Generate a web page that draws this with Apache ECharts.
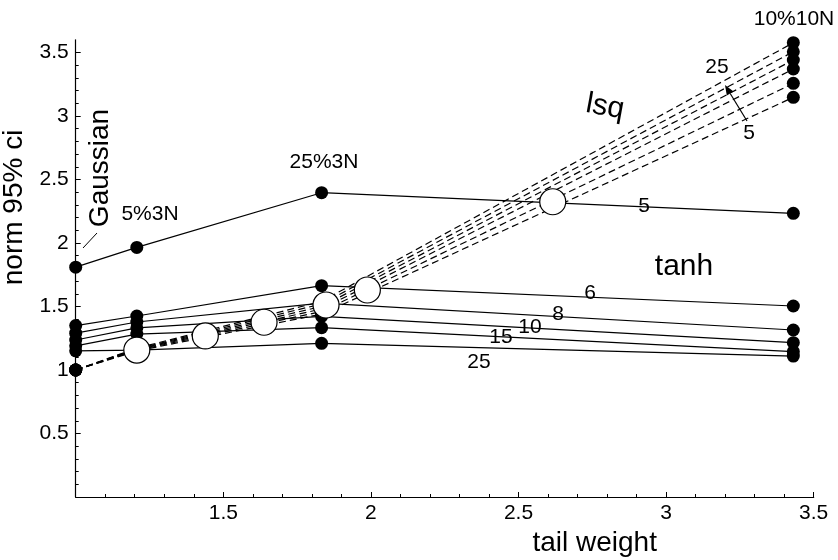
<!DOCTYPE html>
<html>
<head>
<meta charset="utf-8">
<script src="https://cdn.jsdelivr.net/npm/echarts@6/dist/echarts.min.js"></script>
<style>html,body{margin:0;padding:0;background:#fff}#c{width:838px;height:560px}</style>
</head>
<body>
<div id="c"></div>
<script>
// tail weight positions of the four distributions: Gaussian, 5%3N, 25%3N, 10%10N
var tailWeight = [1.0, 1.207, 1.833, 3.431];
// tanh estimator, by N
var tanh5  = [1.81, 1.965, 2.396, 2.234];
var tanh6  = [1.35, 1.425, 1.664, 1.504];
var tanh8  = [1.29, 1.378, 1.526, 1.315];
var tanh10 = [1.236, 1.331, 1.423, 1.215];
var tanh15 = [1.19, 1.283, 1.333, 1.144];
var tanh25 = [1.151, 1.157, 1.21, 1.110];
// lsq estimator, by N
var lsq5  = [1.0, 1.150, 1.440, 3.147];
var lsq6  = [1.0, 1.155, 1.460, 3.257];
var lsq8  = [1.0, 1.160, 1.480, 3.370];
var lsq10 = [1.0, 1.163, 1.500, 3.441];
var lsq15 = [1.0, 1.167, 1.520, 3.506];
var lsq25 = [1.0, 1.172, 1.540, 3.577];
// crossover points (open circles)
var crossX = [1.207, 1.439, 1.638, 1.848, 1.988, 2.616];
var crossY = [1.157, 1.268, 1.376, 1.512, 1.630, 2.325];
// tick values
var xTickLabels = [1.5, 2, 2.5, 3, 3.5];
var yTickLabels = [0.5, 1, 1.5, 2, 2.5, 3, 3.5];
var yMajorTicks = [0, 0.5, 1, 1.5, 2, 2.5, 3, 3.5];
var yMinorTicks = [0.1,0.2,0.3,0.4,0.6,0.7,0.8,0.9,1.1,1.2,1.3,1.4,1.6,1.7,1.8,1.9,2.1,2.2,2.3,2.4,2.6,2.7,2.8,2.9,3.1,3.2,3.3,3.4];

var FONT = 'Liberation Sans';
function pts(ys){ return tailWeight.map(function(x,i){ return [x, ys[i]]; }); }

var tanhSets = [['tanh 5',tanh5],['tanh 6',tanh6],['tanh 8',tanh8],['tanh 10',tanh10],['tanh 15',tanh15],['tanh 25',tanh25]];
var lsqSets = [['lsq 5',lsq5],['lsq 6',lsq6],['lsq 8',lsq8],['lsq 10',lsq10],['lsq 15',lsq15],['lsq 25',lsq25]];

var series = [];
tanhSets.forEach(function(s){
  series.push({name:s[0], type:'line', data:pts(s[1]), symbol:'circle', symbolSize:13,
    itemStyle:{color:'#000', opacity:1}, lineStyle:{color:'#000', width:1.2}, z:3, animation:false, clip:false});
});
lsqSets.forEach(function(s){
  series.push({name:s[0], type:'line', data:pts(s[1]), symbol:'circle', symbolSize:13,
    itemStyle:{color:'#000', opacity:1}, lineStyle:{color:'#000', width:1.2, type:[7,4]}, z:4, animation:false, clip:false});
});
series.push({name:'crossover', type:'scatter', data:crossX.map(function(x,i){return [x,crossY[i]];}),
  symbol:'circle', symbolSize:26, itemStyle:{color:'#fff', opacity:1, borderColor:'#000', borderWidth:1.2}, z:6, animation:false});

function txt(x,y,s,size,rot){
  return {type:'text', x:x, y:y, rotation:rot||0, z:100,
    style:{text:s, fill:'#000', font:(size||21)+'px "'+FONT+'"', align:'center', verticalAlign:'middle'}};
}

var option = {
  animation:false,
  backgroundColor:'#fff',
  textStyle:{fontFamily:FONT},
  grid:{left:75.7, right:24.3, top:39.8, bottom:63, containLabel:false, outerBoundsMode:'none'},
  xAxis:{type:'value', min:1, max:3.5, interval:0.5,
    name:'tail weight', nameLocation:'middle', nameGap:27,
    nameTextStyle:{fontSize:28, color:'#000', fontFamily:FONT, padding:[0,0,0,300]},
    axisLine:{lineStyle:{color:'#000', width:1.2}},
    axisTick:{inside:true, length:5, lineStyle:{color:'#000'}},
    minorTick:{show:true, splitNumber:5, length:3, lineStyle:{color:'#000'}},
    axisLabel:{color:'#000', fontSize:21, fontFamily:FONT, margin:6,
      formatter:function(v){ return xTickLabels.indexOf(v)>=0 ? String(v) : ''; }},
    splitLine:{show:false}
  },
  yAxis:[{type:'value', min:0, max:3.6,
    name:'norm 95% ci', nameLocation:'middle', nameGap:38,
    nameTextStyle:{fontSize:28, color:'#000', fontFamily:FONT, padding:[0,0,0,122]},
    axisLine:{lineStyle:{color:'#000', width:1.2}},
    axisTick:{inside:true, length:5, customValues:yMajorTicks, lineStyle:{color:'#000'}},
    axisLabel:{color:'#000', fontSize:21, fontFamily:FONT, margin:7, customValues:yTickLabels},
    splitLine:{show:false}
  },{type:'value', min:0, max:3.6, position:'left', offset:0,
    axisLine:{show:false},
    axisTick:{show:true, inside:true, length:3, customValues:yMinorTicks, lineStyle:{color:'#000'}},
    axisLabel:{show:false}, splitLine:{show:false}
  }],
  series: series,
  graphic:[
    txt(100,168,'Gaussian',28,Math.PI/2),
    {type:'line', shape:{x1:83,y1:248,x2:97,y2:233}, style:{stroke:'#000', lineWidth:1}, z:100},
    txt(150,214,'5%3N',21),
    txt(324,162,'25%3N',21),
    txt(794,19,'10%10N',21),
    txt(605,107,'lsq',30,-0.18),
    txt(684,267,'tanh',30),
    txt(644,206,'5',21),
    txt(590,293,'6',21),
    txt(558,314,'8',21),
    txt(530,327,'10',21),
    txt(501,337,'15',21),
    txt(479,362,'25',21),
    txt(717,67,'25',21),
    txt(749,133,'5',21),
    {type:'line', shape:{x1:747,y1:121,x2:730.2,y2:93.5}, style:{stroke:'#000', lineWidth:1.2}, z:100},
    {type:'polygon', shape:{points:[[725,85],[733.6,91.4],[726.8,95.6]]}, style:{fill:'#000'}, z:100}
  ]
};
var chart = echarts.init(document.getElementById('c'), null, {renderer:'canvas'});
chart.setOption(option);
</script>
</body>
</html>
